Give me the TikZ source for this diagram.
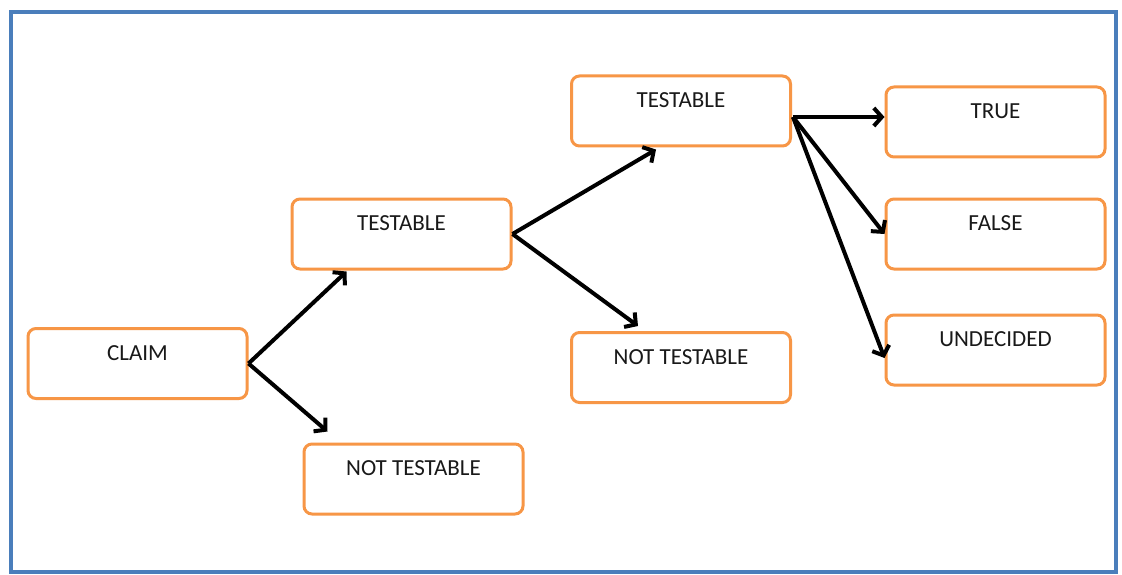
\documentclass[tikz,border=0pt]{standalone}
\usepackage{fontspec}
\setmainfont{Carlito}
\usetikzlibrary{arrows.meta,calc}
\definecolor{frameblue}{RGB}{74,126,187}
\definecolor{boxorange}{RGB}{247,150,70}
\definecolor{txt}{RGB}{25,25,25}
\begin{document}
\begin{tikzpicture}[x=1pt,y=-1pt,
  box/.style={draw=boxorange, line width=3pt, rounded corners=8pt, fill=white,
    minimum width=219pt, minimum height=70pt, inner sep=0pt,
    text=txt, font=\fontsize{23}{25}\selectfont, text height=15pt, text depth=22pt},
  arr/.style={line width=4pt, black, -{Straight Barb[length=8pt,width=18pt]}}]
\useasboundingbox (0,0) rectangle (1122,575);
\fill[white] (0,0) rectangle (1122,575);
\draw[frameblue, line width=4.5pt] (11,12) rectangle (1116,572);
\node[box] (claim) at (137.5,363.5) {CLAIM};
\node[box] (test1) at (401.5,234) {TESTABLE};
\node[box] (nt1) at (413.5,479) {NOT TESTABLE};
\node[box] (test2) at (681,111) {TESTABLE};
\node[box] (nt2) at (681,367.5) {NOT TESTABLE};
\node[box] (true) at (995.5,122) {TRUE};
\node[box] (false) at (995.5,234) {FALSE};
\node[box] (und) at (995.5,350) {UNDECIDED};
\coordinate (c1) at ($(test1.south west)+(56,1)$);
\coordinate (c2) at ($(nt1.north west)+(25,-11)$);
\coordinate (t1) at ($(test2.south west)+(86,2)$);
\coordinate (t2) at ($(nt2.north west)+(68,-5)$);
\coordinate (s2) at ($(test2.east)+(1,6)$);
\coordinate (u) at ($(und.west)+(0,8)$);
\draw[arr] (claim.east) -- (c1);
\draw[arr] (claim.east) -- (c2);
\draw[arr] (test1.east) -- (t1);
\draw[arr] (test1.east) -- (t2);
\draw[arr] (s2) -- (s2 -| true.west);
\draw[arr] (s2) -- (false.west);
\draw[arr] (s2) -- (u);
\end{tikzpicture}
\end{document}
